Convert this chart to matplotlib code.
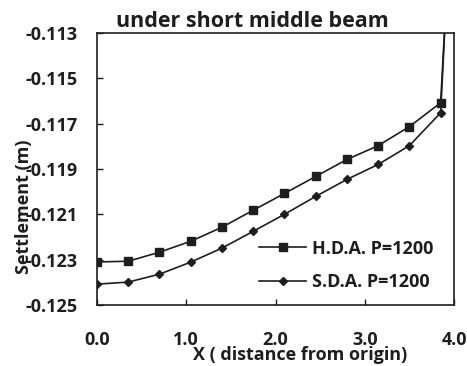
import numpy as np
import matplotlib
matplotlib.use('Agg')
import matplotlib.pyplot as plt

# settlement along the short middle beam
x_hda = [0.0, 0.35, 0.7, 1.05, 1.4, 1.75, 2.1, 2.45, 2.8, 3.15, 3.5, 3.85, 3.92]
y_hda = [-0.1231, -0.12307, -0.12267, -0.12219, -0.12157, -0.12082, -0.12008,
         -0.11933, -0.11858, -0.11797, -0.11713, -0.11608, -0.1110]
x_sda = [0.0, 0.35, 0.7, 1.05, 1.4, 1.75, 2.1, 2.45, 2.8, 3.15, 3.5, 3.85, 3.92]
y_sda = [-0.12408, -0.12399, -0.12364, -0.12311, -0.12249, -0.12175, -0.12100,
         -0.12021, -0.11946, -0.11880, -0.11797, -0.11652, -0.1110]
xticks = [0.0, 1.0, 2.0, 3.0, 4.0]
yticks = [-0.113, -0.115, -0.117, -0.119, -0.121, -0.123, -0.125]

plt.rcParams['font.family'] = ['Open Sans', 'DejaVu Sans']
plt.rcParams['font.weight'] = 'bold'
ink = '#1e1e1e'
fs = 13

fig = plt.figure(figsize=(4.67, 3.66), dpi=100)
ax = fig.add_axes([0.2077, 0.1667, 0.7645, 0.7431])

ax.plot(x_hda, y_hda, color=ink, lw=1.2, marker='s', markersize=6,
        label='H.D.A. P=1200')
ax.plot(x_sda, y_sda, color=ink, lw=1.2, marker='D', markersize=4,
        label='S.D.A. P=1200')

ax.set_xlim(0, 4.0)
ax.set_ylim(-0.125, -0.113)
ax.set_xticks(xticks)
ax.set_xticklabels(['%.1f' % v for v in xticks])
ax.set_yticks(yticks)
ax.set_yticklabels(['%.3f' % v for v in yticks])
ax.tick_params(axis='both', direction='in', length=4, width=1, colors=ink,
               labelsize=fs)
ax.tick_params(axis='x', pad=19)
ax.tick_params(axis='y', pad=14)
for s in ax.spines.values():
    s.set_color(ink)
    s.set_linewidth(1.2)

ax.set_title('under short middle beam', fontsize=15.5, fontweight='bold',
             color=ink, x=0.434, pad=4)
ax.set_xlabel('X ( distance from origin)', fontsize=fs, fontweight='bold',
              color=ink)
ax.xaxis.set_label_coords(0.57, -0.152)
ax.set_ylabel('Settlement (m)', fontsize=fs, fontweight='bold', color=ink)
ax.yaxis.set_label_coords(-0.18, 0.36)

ax.legend(loc='upper left', bbox_to_anchor=(0.455, 0.24), frameon=False,
          fontsize=fs, handlelength=2.6, handletextpad=0.3,
          labelspacing=0.85, borderaxespad=0, borderpad=0, labelcolor=ink)

fig.savefig('out.png', dpi=100)
